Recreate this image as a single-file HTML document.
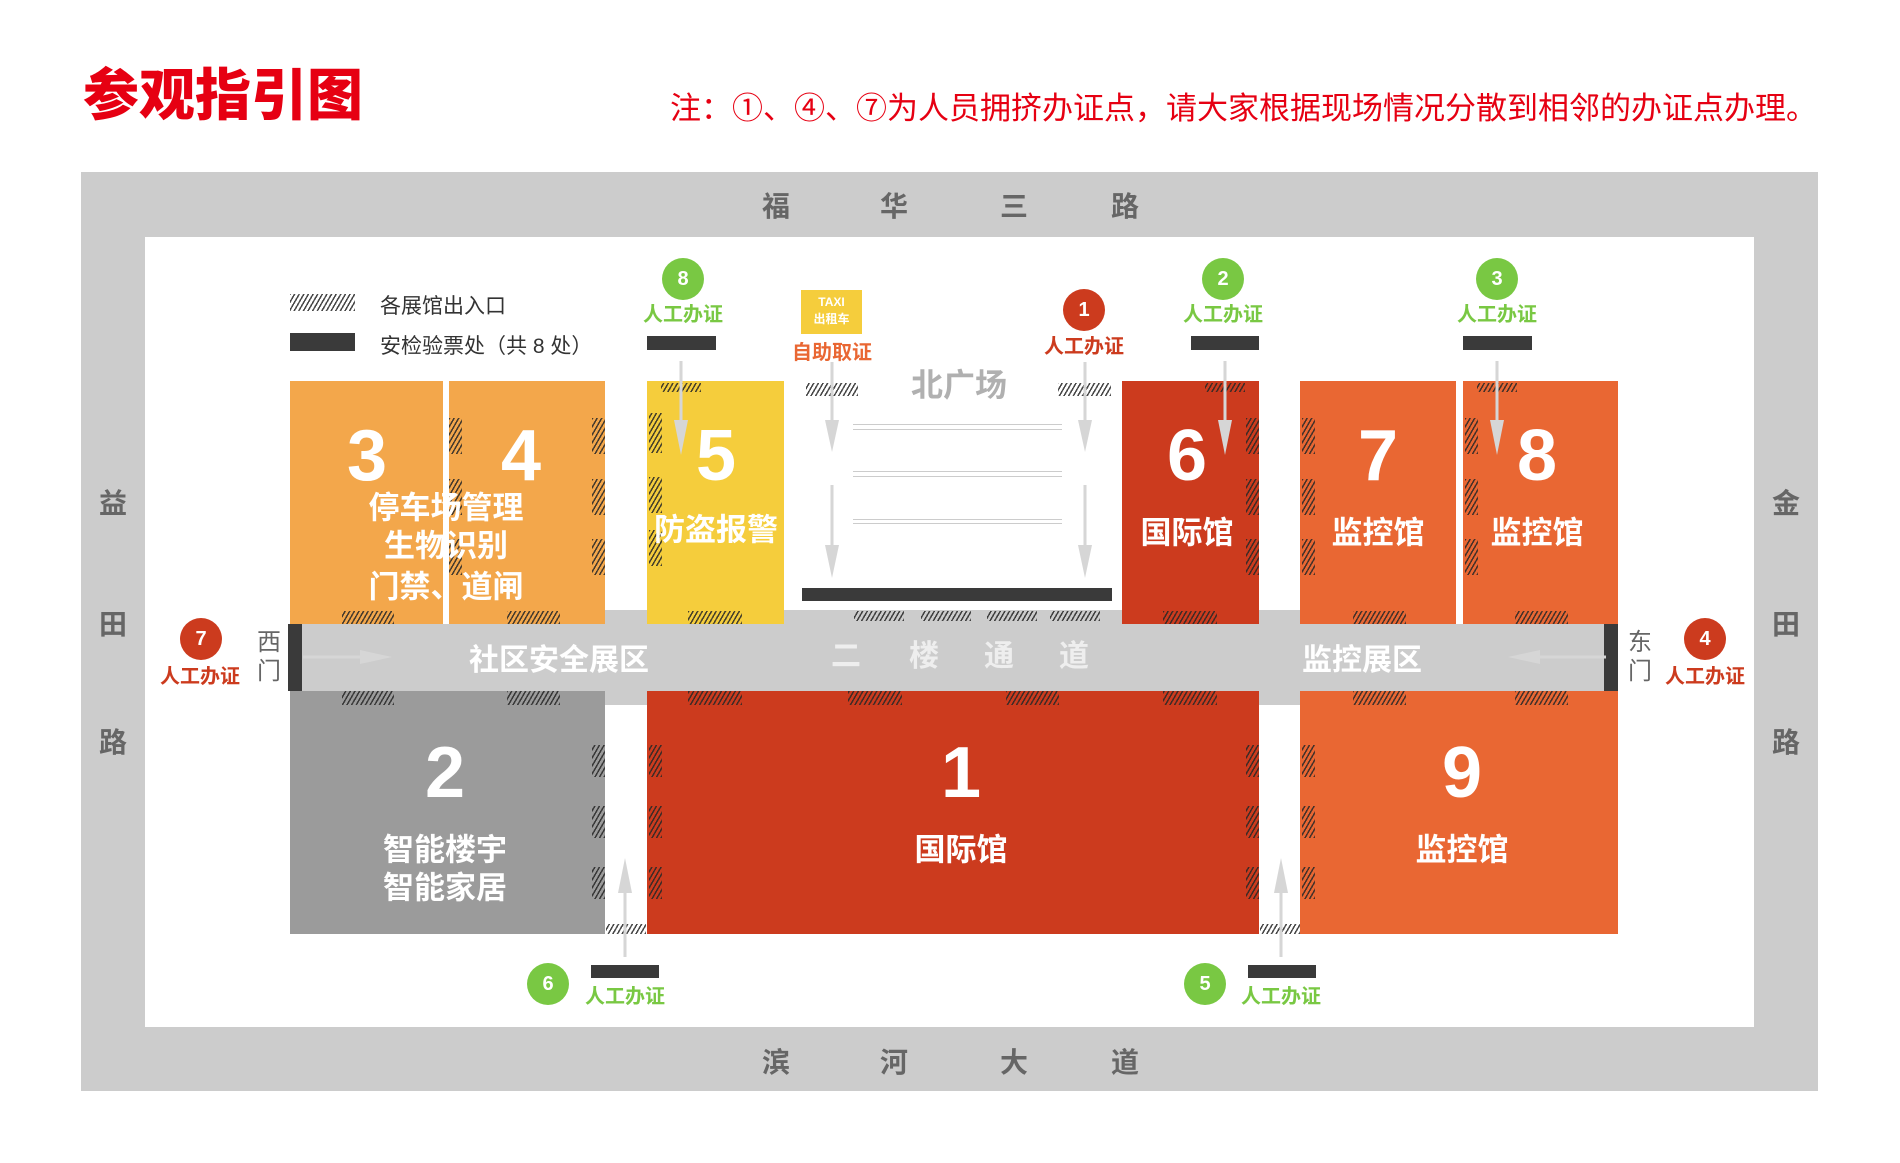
<!DOCTYPE html>
<html><head><meta charset="utf-8"><style>
*{margin:0;padding:0;box-sizing:border-box}
body{width:1900px;height:1163px;background:#fff;position:relative;overflow:hidden;font-family:"Liberation Sans","Noto Sans CJK SC",sans-serif}
.a{position:absolute}
.t{position:absolute;white-space:nowrap;transform:translate(-50%,-50%);font-weight:bold;line-height:1}
.h{position:absolute;background:repeating-linear-gradient(-60deg,rgba(40,40,40,.85) 0 1.5px,transparent 1.5px 4px)}
.w{color:#fff}
.g{color:#666}
.circ{position:absolute;border-radius:50%;color:#fff;font-weight:bold;font-size:20px;display:flex;align-items:center;justify-content:center;transform:translate(-50%,-50%)}
.bar{position:absolute;background:#3a3a3a}
</style></head><body>
<div class="a" style="left:83px;top:68px;font-size:56px;font-weight:900;color:#e60012;line-height:1">参观指引图</div>
<div class="a" style="left:670px;top:93px;font-size:31px;color:#e60012;line-height:1;white-space:nowrap">注：①、④、⑦为人员拥挤办证点，请大家根据现场情况分散到相邻的办证点办理。</div>

<div class="a" style="left:81px;top:172px;width:1737px;height:919px;background:#cccccc"></div>
<div class="a" style="left:145px;top:237px;width:1609px;height:790px;background:#fff"></div>

<div class="t g" style="left:776px;top:207px;font-size:28px">福</div>
<div class="t g" style="left:894px;top:207px;font-size:28px">华</div>
<div class="t g" style="left:1014px;top:207px;font-size:28px">三</div>
<div class="t g" style="left:1125px;top:207px;font-size:28px">路</div>
<div class="t g" style="left:776px;top:1063px;font-size:28px">滨</div>
<div class="t g" style="left:894px;top:1063px;font-size:28px">河</div>
<div class="t g" style="left:1014px;top:1063px;font-size:28px">大</div>
<div class="t g" style="left:1125px;top:1063px;font-size:28px">道</div>
<div class="t g" style="left:113px;top:504px;font-size:28px">益</div>
<div class="t g" style="left:113px;top:625px;font-size:28px">田</div>
<div class="t g" style="left:113px;top:743px;font-size:28px">路</div>
<div class="t g" style="left:1786px;top:504px;font-size:28px">金</div>
<div class="t g" style="left:1786px;top:625px;font-size:28px">田</div>
<div class="t g" style="left:1786px;top:743px;font-size:28px">路</div>

<div class="h" style="left:290px;top:294px;width:65px;height:17px"></div>
<div class="a" style="left:380px;top:290px;font-size:21px;color:#333;white-space:nowrap">各展馆出入口</div>
<div class="bar" style="left:290px;top:333px;width:65px;height:18px"></div>
<div class="a" style="left:380px;top:330px;font-size:21px;color:#333;white-space:nowrap">安检验票处（共 8 处）</div>

<div class="a" style="left:605px;top:610px;width:695px;height:95px;background:#ccc"></div>
<div class="a" style="left:300px;top:624px;width:1318px;height:67px;background:#ccc"></div>
<div class="bar" style="left:288px;top:624px;width:14px;height:67px"></div>
<div class="bar" style="left:1604px;top:624px;width:14px;height:67px"></div>

<div class="a" style="left:290px;top:381px;width:315px;height:243px;background:#f3a74b"></div>
<div class="a" style="left:443px;top:381px;width:6px;height:243px;background:#fff"></div>
<div class="a" style="left:647px;top:381px;width:137px;height:243px;background:#f5cd3c"></div>
<div class="a" style="left:1122px;top:381px;width:137px;height:243px;background:#cc3b1e"></div>
<div class="a" style="left:1300px;top:381px;width:318px;height:243px;background:#e96733"></div>
<div class="a" style="left:1456px;top:381px;width:7px;height:243px;background:#fff"></div>
<div class="a" style="left:290px;top:691px;width:315px;height:243px;background:#9b9b9b"></div>
<div class="a" style="left:647px;top:691px;width:612px;height:243px;background:#cc3b1e"></div>
<div class="a" style="left:1300px;top:691px;width:318px;height:243px;background:#e96733"></div>

<div class="h" style="left:342px;top:611px;width:52px;height:13px"></div>
<div class="h" style="left:507px;top:611px;width:53px;height:13px"></div>
<div class="h" style="left:688px;top:611px;width:54px;height:13px"></div>
<div class="h" style="left:854px;top:611px;width:50px;height:10px"></div>
<div class="h" style="left:921px;top:611px;width:50px;height:10px"></div>
<div class="h" style="left:987px;top:611px;width:50px;height:10px"></div>
<div class="h" style="left:1050px;top:611px;width:50px;height:10px"></div>
<div class="h" style="left:1163px;top:611px;width:54px;height:13px"></div>
<div class="h" style="left:1353px;top:611px;width:53px;height:13px"></div>
<div class="h" style="left:1515px;top:611px;width:53px;height:13px"></div>
<div class="h" style="left:342px;top:691px;width:52px;height:14px"></div>
<div class="h" style="left:507px;top:691px;width:53px;height:14px"></div>
<div class="h" style="left:688px;top:691px;width:54px;height:14px"></div>
<div class="h" style="left:848px;top:691px;width:54px;height:14px"></div>
<div class="h" style="left:1006px;top:691px;width:53px;height:14px"></div>
<div class="h" style="left:1163px;top:691px;width:54px;height:14px"></div>
<div class="h" style="left:1353px;top:691px;width:53px;height:14px"></div>
<div class="h" style="left:1515px;top:691px;width:53px;height:14px"></div>
<div class="h" style="left:592px;top:418px;width:13px;height:36px"></div>
<div class="h" style="left:592px;top:479px;width:13px;height:36px"></div>
<div class="h" style="left:592px;top:539px;width:13px;height:36px"></div>
<div class="h" style="left:449px;top:418px;width:13px;height:36px"></div>
<div class="h" style="left:449px;top:479px;width:13px;height:36px"></div>
<div class="h" style="left:449px;top:539px;width:13px;height:36px"></div>
<div class="h" style="left:649px;top:413px;width:13px;height:40px"></div>
<div class="h" style="left:649px;top:477px;width:13px;height:36px"></div>
<div class="h" style="left:649px;top:530px;width:13px;height:36px"></div>
<div class="h" style="left:661px;top:383px;width:40px;height:9px"></div>
<div class="h" style="left:806px;top:383px;width:52px;height:13px"></div>
<div class="h" style="left:1058px;top:383px;width:53px;height:13px"></div>
<div class="h" style="left:1205px;top:383px;width:40px;height:9px"></div>
<div class="h" style="left:1246px;top:418px;width:13px;height:36px"></div>
<div class="h" style="left:1246px;top:479px;width:13px;height:36px"></div>
<div class="h" style="left:1246px;top:539px;width:13px;height:36px"></div>
<div class="h" style="left:1302px;top:418px;width:13px;height:36px"></div>
<div class="h" style="left:1302px;top:479px;width:13px;height:36px"></div>
<div class="h" style="left:1302px;top:539px;width:13px;height:36px"></div>
<div class="h" style="left:1465px;top:418px;width:13px;height:36px"></div>
<div class="h" style="left:1465px;top:479px;width:13px;height:36px"></div>
<div class="h" style="left:1465px;top:539px;width:13px;height:36px"></div>
<div class="h" style="left:1477px;top:383px;width:40px;height:9px"></div>
<div class="h" style="left:592px;top:745px;width:13px;height:32px"></div>
<div class="h" style="left:592px;top:806px;width:13px;height:32px"></div>
<div class="h" style="left:592px;top:867px;width:13px;height:32px"></div>
<div class="h" style="left:649px;top:745px;width:13px;height:32px"></div>
<div class="h" style="left:649px;top:806px;width:13px;height:32px"></div>
<div class="h" style="left:649px;top:867px;width:13px;height:32px"></div>
<div class="h" style="left:1246px;top:745px;width:13px;height:32px"></div>
<div class="h" style="left:1246px;top:806px;width:13px;height:32px"></div>
<div class="h" style="left:1246px;top:867px;width:13px;height:32px"></div>
<div class="h" style="left:1302px;top:745px;width:13px;height:32px"></div>
<div class="h" style="left:1302px;top:806px;width:13px;height:32px"></div>
<div class="h" style="left:1302px;top:867px;width:13px;height:32px"></div>
<div class="h" style="left:606px;top:924px;width:40px;height:10px"></div>
<div class="h" style="left:1260px;top:924px;width:40px;height:10px"></div>

<div class="t" style="left:959px;top:385px;font-size:32px;color:#b0b0b0">北广场</div>
<div class="a" style="left:853px;top:424px;width:209px;height:6px;border-top:1px solid #ccc;border-bottom:1px solid #ccc"></div>
<div class="a" style="left:853px;top:471px;width:209px;height:6px;border-top:1px solid #ccc;border-bottom:1px solid #ccc"></div>
<div class="a" style="left:853px;top:519px;width:209px;height:5px;border-top:1px solid #ccc;border-bottom:1px solid #ccc"></div>
<div class="bar" style="left:802px;top:588px;width:310px;height:13px"></div>

<svg class="a" style="left:0;top:0" width="1900" height="1163">
<g stroke="#d6d6d6" stroke-width="3" fill="#d6d6d6">
<line x1="832" y1="362" x2="832" y2="440"/><polygon points="825,420 839,420 832,452" stroke="none"/>
<line x1="832" y1="485" x2="832" y2="570"/><polygon points="825,545 839,545 832,578" stroke="none"/>
<line x1="1085" y1="362" x2="1085" y2="440"/><polygon points="1078,420 1092,420 1085,452" stroke="none"/>
<line x1="1085" y1="485" x2="1085" y2="570"/><polygon points="1078,545 1092,545 1085,578" stroke="none"/>
<line x1="681" y1="361" x2="681" y2="440"/><polygon points="674,420 688,420 681,455" stroke="none"/>
<line x1="1225" y1="361" x2="1225" y2="440"/><polygon points="1218,420 1232,420 1225,455" stroke="none"/>
<line x1="1497" y1="361" x2="1497" y2="440"/><polygon points="1490,420 1504,420 1497,455" stroke="none"/>
<line x1="303" y1="657" x2="370" y2="657"/><polygon points="360,650 360,664 392,657" stroke="none"/>
<line x1="1606" y1="657" x2="1530" y2="657"/><polygon points="1540,650 1540,664 1508,657" stroke="none"/>
<line x1="625" y1="957" x2="625" y2="880"/><polygon points="618,893 632,893 625,858" stroke="none"/>
<line x1="1281" y1="957" x2="1281" y2="880"/><polygon points="1274,893 1288,893 1281,858" stroke="none"/>
</g></svg>

<div class="a" style="left:801px;top:290px;width:61px;height:44px;background:#f5cd3c;color:#fff;font-size:12px;font-weight:bold;text-align:center;line-height:17px;padding-top:4px">TAXI<br>出租车</div>
<div class="t" style="left:832px;top:353px;font-size:20px;color:#e96733">自助取证</div>

<div class="circ" style="left:683px;top:279px;width:42px;height:42px;background:#79c843">8</div>
<div class="t" style="left:683px;top:315px;font-size:20px;color:#79c843">人工办证</div>
<div class="bar" style="left:647px;top:336px;width:69px;height:14px"></div>
<div class="circ" style="left:1084px;top:310px;width:42px;height:42px;background:#cc3b1e">1</div>
<div class="t" style="left:1084px;top:347px;font-size:20px;color:#cc3b1e">人工办证</div>
<div class="circ" style="left:1223px;top:279px;width:42px;height:42px;background:#79c843">2</div>
<div class="t" style="left:1223px;top:315px;font-size:20px;color:#79c843">人工办证</div>
<div class="bar" style="left:1191px;top:336px;width:68px;height:14px"></div>
<div class="circ" style="left:1497px;top:279px;width:42px;height:42px;background:#79c843">3</div>
<div class="t" style="left:1497px;top:315px;font-size:20px;color:#79c843">人工办证</div>
<div class="bar" style="left:1463px;top:336px;width:69px;height:14px"></div>
<div class="circ" style="left:201px;top:639px;width:42px;height:42px;background:#cc3b1e">7</div>
<div class="t" style="left:200px;top:677px;font-size:20px;color:#cc3b1e">人工办证</div>
<div class="t g" style="left:269px;top:643px;font-size:24px;font-weight:normal">西</div>
<div class="t g" style="left:269px;top:672px;font-size:24px;font-weight:normal">门</div>
<div class="circ" style="left:1705px;top:639px;width:42px;height:42px;background:#cc3b1e">4</div>
<div class="t" style="left:1705px;top:677px;font-size:20px;color:#cc3b1e">人工办证</div>
<div class="t g" style="left:1640px;top:643px;font-size:24px;font-weight:normal">东</div>
<div class="t g" style="left:1640px;top:672px;font-size:24px;font-weight:normal">门</div>
<div class="circ" style="left:548px;top:984px;width:42px;height:42px;background:#79c843">6</div>
<div class="bar" style="left:591px;top:965px;width:68px;height:13px"></div>
<div class="t" style="left:625px;top:997px;font-size:20px;color:#79c843">人工办证</div>
<div class="circ" style="left:1205px;top:984px;width:42px;height:42px;background:#79c843">5</div>
<div class="bar" style="left:1248px;top:965px;width:68px;height:13px"></div>
<div class="t" style="left:1281px;top:997px;font-size:20px;color:#79c843">人工办证</div>

<div class="t w" style="left:367px;top:456px;font-size:72px">3</div>
<div class="t w" style="left:521px;top:456px;font-size:72px">4</div>
<div class="t w" style="left:446px;top:508px;font-size:31px">停车场管理</div>
<div class="t w" style="left:446px;top:546px;font-size:31px">生物识别</div>
<div class="t w" style="left:446px;top:587px;font-size:31px">门禁、道闸</div>
<div class="t w" style="left:716px;top:456px;font-size:72px">5</div>
<div class="t w" style="left:716px;top:530px;font-size:31px">防盗报警</div>
<div class="t w" style="left:1187px;top:456px;font-size:72px">6</div>
<div class="t w" style="left:1187px;top:533px;font-size:31px">国际馆</div>
<div class="t w" style="left:1378px;top:456px;font-size:72px">7</div>
<div class="t w" style="left:1378px;top:533px;font-size:31px">监控馆</div>
<div class="t w" style="left:1537px;top:456px;font-size:72px">8</div>
<div class="t w" style="left:1537px;top:533px;font-size:31px">监控馆</div>
<div class="t w" style="left:445px;top:773px;font-size:72px">2</div>
<div class="t w" style="left:445px;top:850px;font-size:31px">智能楼宇</div>
<div class="t w" style="left:445px;top:888px;font-size:31px">智能家居</div>
<div class="t w" style="left:961px;top:773px;font-size:72px">1</div>
<div class="t w" style="left:961px;top:850px;font-size:31px">国际馆</div>
<div class="t w" style="left:1462px;top:773px;font-size:72px">9</div>
<div class="t w" style="left:1462px;top:850px;font-size:31px">监控馆</div>

<div class="t w" style="left:559px;top:661px;font-size:30px">社区安全展区</div>
<div class="t" style="left:846px;top:657px;font-size:30px;color:#eee">二</div>
<div class="t" style="left:924px;top:657px;font-size:30px;color:#eee">楼</div>
<div class="t" style="left:999px;top:657px;font-size:30px;color:#eee">通</div>
<div class="t" style="left:1074px;top:657px;font-size:30px;color:#eee">道</div>
<div class="t w" style="left:1362px;top:661px;font-size:30px">监控展区</div>
</body></html>
